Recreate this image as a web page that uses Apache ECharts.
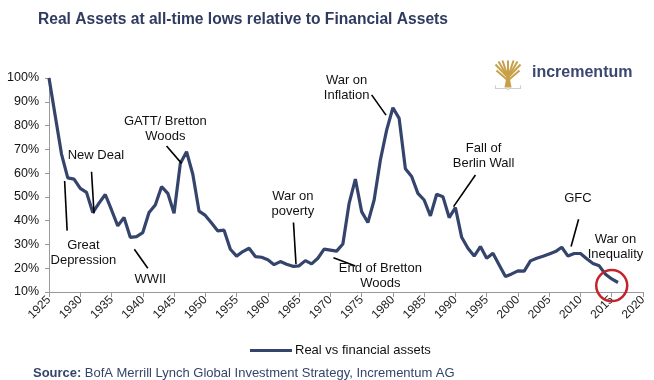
<!DOCTYPE html>
<html>
<head>
<meta charset="utf-8">
<script src="https://cdn.jsdelivr.net/npm/echarts@6/dist/echarts.min.js"></script>
<style>html,body{margin:0;padding:0;background:#fff;}#c{width:654px;height:380px;}</style>
</head>
<body>
<div id="c"></div>
<script>
// ---- data ----
const startYear = 1925;
const ratioValues = [
  100, 84, 68, 58, 57.5, 53.6, 51.9, 43.4, 47.4, 51,
  44.5, 37.8, 41.3, 33, 33.3, 35, 43.4, 46.6, 54.3, 51.5,
  43.1, 64, 69, 59.5, 44, 42.2, 39, 35.7, 36, 28,
  25.1, 27, 28.4, 24.9, 24.6, 23.6, 21.5, 22.8, 21.7, 20.8,
  21, 23.2, 21.8, 24.2, 28, 27.6, 27.2, 30.2, 47.3, 57.5,
  43.8, 39.2, 48.7, 65.5, 78.1, 87.5, 83, 61.8, 58.6, 51.5,
  48.7, 42, 51.1, 50.1, 41.3, 45.5, 33, 28.4, 25.1, 29.1,
  24.2, 26.3, 21.4, 16.5, 17.6, 18.9, 18.8, 23.1, 24.2, 25,
  26, 27, 28.8, 25.1, 26.2, 26.2, 24, 22, 21, 17.5,
  15.5, 14
];
const years = ratioValues.map((_, i) => startYear + i);
const seriesName = 'Real vs financial assets';
const yTicks = [10, 20, 30, 40, 50, 60, 70, 80, 90, 100];
const xTicks = [1925, 1930, 1935, 1940, 1945, 1950, 1955, 1960, 1965, 1970, 1975, 1980, 1985, 1990, 1995, 2000, 2005, 2010, 2015, 2020];

// annotation labels (in data coordinates: [year, percent])
const annotationTexts = [
  ['Great\nDepression', 1930.5, 26.4],
  ['New Deal', 1932.5, 67.6],
  ['WWII', 1941.2, 15.3],
  ['GATT/ Bretton\nWoods', 1943.6, 78.5],
  ['War on\npoverty', 1964, 47],
  ['End of Bretton\nWoods', 1978, 16.9],
  ['War on\nInflation', 1972.6, 95.7],
  ['Fall of\nBerlin Wall', 1994.5, 67.2],
  ['GFC', 2009.6, 49.4],
  ['War on\nInequality', 2015.6, 28.9]
];
// leader lines [x1, y1, x2, y2] in data coordinates
const annotationLines = [
  [1927.5, 56.7, 1927.9, 35.8],
  [1931.8, 60.6, 1932.2, 43.1],
  [1938.65, 28, 1940.8, 20],
  [1943.8, 71.4, 1946.2, 64.1],
  [1964.1, 39.2, 1964.5, 21.8],
  [1970.5, 24.4, 1974, 20.9],
  [1976.6, 92.9, 1978.9, 84.4],
  [1993.2, 59.2, 1989.7, 45.9],
  [2009.7, 40.6, 2008.5, 29.1]
];
const highlightPoint = [2015, 12.7];

// ---- chart ----
const FONT = '"Liberation Sans", Arial, Helvetica, sans-serif';
const NAVY = '#34446c';
const chart = echarts.init(document.getElementById('c'), null, {renderer: 'canvas'});

const lineData = years.map((y, i) => [y, ratioValues[i]]);

chart.setOption({
  animation: false,
  textStyle: {fontFamily: FONT},
  title: {
    text: 'Real Assets at all-time lows relative to Financial Assets',
    left: 33, top: 7,
    textStyle: {fontFamily: FONT, fontSize: 15.6, fontWeight: 'bold', color: '#2f3b60'}
  },
  legend: {
    data: [{name: seriesName, icon: 'rect'}],
    left: 245, top: 339,
    itemWidth: 42, itemHeight: 3, itemGap: 4,
    textStyle: {fontFamily: FONT, fontSize: 13, color: '#111', padding: [0, 0, 0, -2]}
  },
  grid: {left: 49, right: 11, top: 78, bottom: 88},
  xAxis: {
    type: 'value', min: xTicks[0], max: xTicks[xTicks.length - 1], interval: 5,
    axisLine: {show: true, lineStyle: {color: '#999', width: 1}},
    axisTick: {show: true, length: 5, lineStyle: {color: '#999'}},
    splitLine: {show: false},
    axisLabel: {rotate: 45, fontSize: 12, color: '#222', margin: 6, fontFamily: FONT,
      formatter: v => String(v)}
  },
  yAxis: {
    type: 'value', min: yTicks[0], max: yTicks[yTicks.length - 1], interval: 10,
    axisLine: {show: true, lineStyle: {color: '#999', width: 1}},
    axisTick: {show: true, length: 4, lineStyle: {color: '#999'}},
    splitLine: {show: false},
    axisLabel: {fontSize: 12.5, color: '#111', margin: 10, fontFamily: FONT, formatter: '{value}%'}
  },
  series: [{
    name: seriesName,
    type: 'line',
    data: lineData,
    symbol: 'none',
    color: NAVY,
    lineStyle: {color: NAVY, width: 3.2},
    clip: false,
    markLine: {
      silent: true,
      symbol: ['none', 'none'],
      label: {show: false},
      lineStyle: {color: '#000', width: 1.6, type: 'solid'},
      emphasis: {disabled: true},
      data: annotationLines.map(l => [{coord: [l[0], l[1]]}, {coord: [l[2], l[3]]}])
    },
    markPoint: {
      silent: true,
      emphasis: {disabled: true},
      data: annotationTexts.map(a => ({
        name: a[0], coord: [a[1], a[2]], symbol: 'circle', symbolSize: 0,
        itemStyle: {color: 'rgba(0,0,0,0)'},
        label: {show: true, position: 'inside', formatter: '{b}', color: '#111',
          fontSize: 13, lineHeight: 15, fontFamily: FONT, align: 'center'}
      })).concat([{
        name: 'highlight', coord: highlightPoint, symbol: 'circle', symbolSize: 31,
        itemStyle: {color: 'rgba(0,0,0,0)', borderColor: '#c3232b', borderWidth: 2.5},
        label: {show: false}
      }])
    }
  }],
  graphic: [
    // source line
    {
      type: 'text', left: 33, top: 367,
      style: {
        rich: {
          b: {fontFamily: FONT, fontSize: 13, fontWeight: 'bold', fill: NAVY},
          r: {fontFamily: FONT, fontSize: 13, fill: NAVY}
        },
        text: '{b|Source:} {r|BofA Merrill Lynch Global Investment Strategy, Incrementum AG}'
      }
    },
    // logo: tree icon
    {
      type: 'group', left: 493, top: 58,
      children: [
        {type: 'polygon', shape: {points: [[10, 27], [17, 27], [15, 16], [12, 16]]}, style: {fill: '#c8a048'}},
        {type: 'line', shape: {x1: 13.5, y1: 17, x2: 1, y2: 4}, style: {stroke: '#c8a048', lineWidth: 2}},
        {type: 'line', shape: {x1: 13.5, y1: 17, x2: 4, y2: 1}, style: {stroke: '#c8a048', lineWidth: 2}},
        {type: 'line', shape: {x1: 13.5, y1: 17, x2: 8, y2: 0}, style: {stroke: '#c8a048', lineWidth: 2}},
        {type: 'line', shape: {x1: 13.5, y1: 17, x2: 13.5, y2: 0}, style: {stroke: '#c8a048', lineWidth: 2}},
        {type: 'line', shape: {x1: 13.5, y1: 17, x2: 19, y2: 0}, style: {stroke: '#c8a048', lineWidth: 2}},
        {type: 'line', shape: {x1: 13.5, y1: 17, x2: 23, y2: 1}, style: {stroke: '#c8a048', lineWidth: 2}},
        {type: 'line', shape: {x1: 13.5, y1: 17, x2: 26, y2: 4}, style: {stroke: '#c8a048', lineWidth: 2}},
        {type: 'line', shape: {x1: 13.5, y1: 20, x2: 2, y2: 10}, style: {stroke: '#c8a048', lineWidth: 2}},
        {type: 'line', shape: {x1: 13.5, y1: 20, x2: 25, y2: 10}, style: {stroke: '#c8a048', lineWidth: 2}},
        {type: 'polyline', shape: {points: [[1, 25], [1, 28], [12, 28], [13.5, 29], [15, 28], [26, 28], [26, 25]]}, style: {stroke: '#cfcfcf', lineWidth: 1.2, fill: 'none'}}
      ]
    },
    {
      type: 'text', left: 532, top: 65,
      style: {text: 'incrementum', fontFamily: FONT, fontSize: 16, fontWeight: 'bold', fill: '#3a4770'}
    }
  ]
});
</script>
</body>
</html>
